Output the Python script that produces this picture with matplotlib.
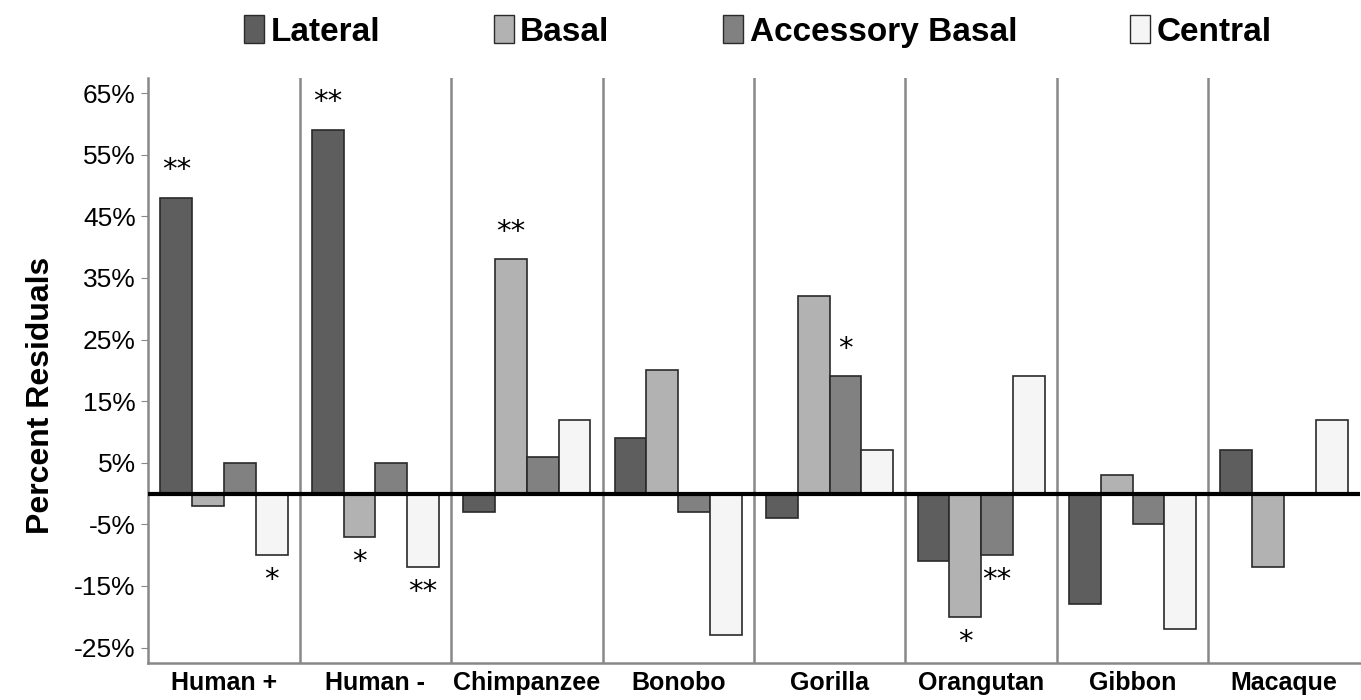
import numpy as np
import matplotlib
matplotlib.use('agg')
import matplotlib.pyplot as plt
from matplotlib.patches import Patch

plt.rcParams['font.family'] = ['Liberation Sans', 'DejaVu Sans']

species = ['Human +', 'Human -', 'Chimpanzee', 'Bonobo', 'Gorilla', 'Orangutan', 'Gibbon', 'Macaque']
series = ['Lateral', 'Basal', 'Accessory Basal', 'Central']
lateral = [48, 59, -3, 9, -4, -11, -18, 7]
basal = [-2, -7, 38, 20, 32, -20, 3, -12]
accessory = [5, 5, 6, -3, 19, -10, -5, np.nan]
central = [-10, -12, 12, -23, 7, 19, -22, 12]
colors = ['#5e5e5e', '#b2b2b2', '#818181', '#f5f5f5']

# significance marks: (species index, series index, text)
marks = [(0, 0, '**'), (0, 3, '*'), (1, 0, '**'), (1, 1, '*'), (1, 3, '**'),
         (2, 1, '**'), (4, 2, '*'), (5, 1, '*'), (5, 2, '**')]

data = [lateral, basal, accessory, central]

fig = plt.figure(figsize=(13.61, 7), dpi=100)
ax = fig.add_axes([0.109, 0.053, 0.89, 0.836])

x = np.arange(len(species))
w = 0.21
for i, (vals, c) in enumerate(zip(data, colors)):
    ax.bar(x + (i - 1.5) * w, vals, w, color=c, edgecolor='#2a2a2a', linewidth=1.2, zorder=2)

for si, ki, txt in marks:
    v = data[ki][si]
    off = 20 if v > 0 else -18
    ax.annotate(txt, (x[si] + (ki - 1.5) * w, v), xytext=(0, off), textcoords='offset points',
                ha='center', va='center', fontsize=21, family='DejaVu Sans')

ax.axhline(0, color='black', linewidth=3, zorder=3)
for s in x[:-1] + 0.5:
    ax.axvline(s, color='#888888', linewidth=1.8, zorder=1)

ax.set_xlim(-0.5, 7.5)
ax.set_ylim(-27.5, 67.5)
yt = np.arange(-25, 66, 10)
ax.set_yticks(yt)
ax.set_yticklabels(['%d%%' % t for t in yt], fontsize=19)
ax.set_xticks(x)
ax.set_xticklabels(species, fontsize=18, fontweight='bold')
ax.tick_params(axis='y', length=5, color='#888888', pad=4)
ax.tick_params(axis='x', length=0, pad=6)
for sp in ['top', 'right']:
    ax.spines[sp].set_visible(False)
for sp in ['left', 'bottom']:
    ax.spines[sp].set_color('#888888')
    ax.spines[sp].set_linewidth(1.8)

fig.text(0.03, 0.435, 'Percent Residuals', rotation=90, fontsize=23, fontweight='bold',
         ha='center', va='center')

handles = [Patch(facecolor=c, edgecolor='#2a2a2a', label=s) for s, c in zip(series, colors)]
fig.legend(handles=handles, loc='center', bbox_to_anchor=(0.557, 0.955), ncol=4, frameon=False,
           prop={'size': 24, 'weight': 'bold'}, handlelength=0.6, handleheight=0.9,
           handletextpad=0.2, columnspacing=3.4)

fig.savefig('out.png', dpi=100)
